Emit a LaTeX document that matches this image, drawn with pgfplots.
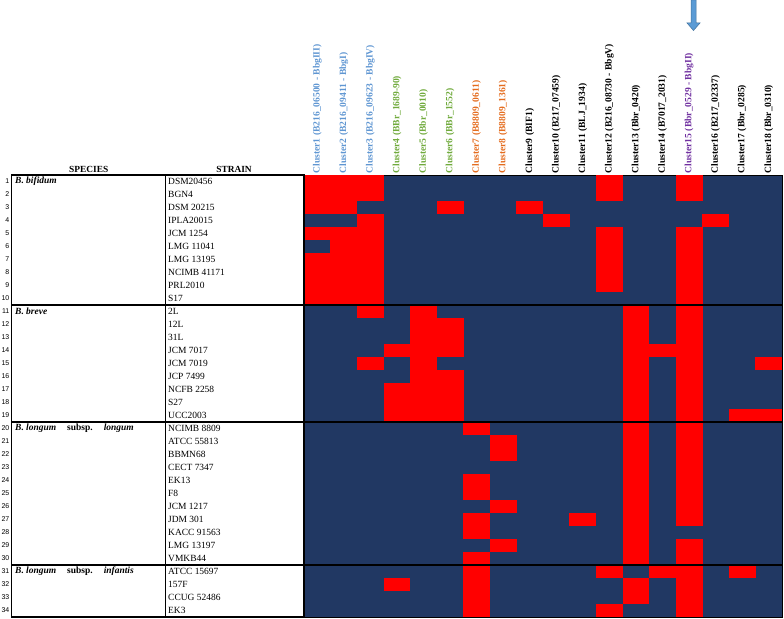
\documentclass[border=0pt]{standalone}
\usepackage{pgfplots}
\pgfplotsset{compat=1.18}
\usepackage{pgfplotstable}
\usepackage{fontspec}
\setmainfont{Liberation Serif}
\newfontfamily\numfont{Liberation Sans}
\definecolor{navy}{RGB}{33,56,99}
\definecolor{cblue}{RGB}{95,150,210}
\definecolor{cgreen}{RGB}{112,170,60}
\definecolor{corange}{RGB}{228,108,30}
\definecolor{cpurple}{RGB}{112,48,160}
\definecolor{arrowblue}{RGB}{91,155,213}
\definecolor{arrowedge}{RGB}{65,113,156}
\pgfdeclareplotmark{cell}{\pgfpathrectangle{\pgfpoint{-13.45bp}{-6.65bp}}{\pgfpoint{26.9bp}{13.3bp}}\pgfusepathqfill}

% red (present) cells: column = cluster, row = strain
\pgfplotstableread{
col row
1 1
2 1
3 1
12 1
15 1
1 2
2 2
3 2
12 2
15 2
1 3
2 3
6 3
9 3
3 4
10 4
16 4
1 5
2 5
3 5
12 5
15 5
2 6
3 6
12 6
15 6
1 7
2 7
3 7
12 7
15 7
1 8
2 8
3 8
12 8
15 8
1 9
2 9
3 9
12 9
15 9
1 10
2 10
3 10
15 10
3 11
5 11
13 11
15 11
5 12
6 12
13 12
15 12
5 13
6 13
13 13
15 13
4 14
5 14
6 14
13 14
14 14
15 14
3 15
5 15
13 15
15 15
18 15
5 16
6 16
13 16
15 16
4 17
5 17
6 17
13 17
15 17
4 18
5 18
6 18
13 18
15 18
4 19
5 19
6 19
13 19
15 19
17 19
18 19
7 20
13 20
15 20
8 21
13 21
15 21
8 22
13 22
15 22
13 23
15 23
7 24
13 24
15 24
7 25
13 25
15 25
8 26
13 26
15 26
7 27
11 27
13 27
15 27
7 28
13 28
8 29
13 29
15 29
7 30
13 30
15 30
7 31
12 31
14 31
15 31
17 31
4 32
7 32
13 32
15 32
7 33
13 33
15 33
7 34
12 34
15 34
}\redcells

\begin{document}
\begin{tikzpicture}[x=1bp,y=1bp]
\path[use as bounding box] (0,0) rectangle (784,-619);
\begin{axis}[
  at={(304bp,-175bp)}, anchor=north west,
  scale only axis, width=478bp, height=442bp,
  xmin=0.5, xmax=18.5, ymin=0.5, ymax=34.5, y dir=reverse,
  axis background/.style={fill=navy},
  axis line style={draw=black, line width=0.8bp},
  clip=false,
  major tick length=0pt,
  xtick={1,...,18}, xticklabel pos=upper,
  xticklabels={
    \textcolor{cblue}{Cluster1 (B216\_06500 - BbgIII)},
    \textcolor{cblue}{Cluster2 (B216\_09411 - BbgI)},
    \textcolor{cblue}{Cluster3 (B216\_09623 - BbgIV)},
    \textcolor{cgreen}{Cluster4 (BBr\_1689-90)},
    \textcolor{cgreen}{Cluster5 (Bbr\_0010)},
    \textcolor{cgreen}{Cluster6 (BBr\_1552)},
    \textcolor{corange}{Cluster7 (B8809\_0611)},
    \textcolor{corange}{Cluster8 (B8809\_1361)},
    Cluster9 (BIF1),
    Cluster10 (B217\_07459),
    Cluster11 (BLJ\_1934),
    Cluster12 (B216\_08730 - BbgV),
    Cluster13 (Bbr\_0420),
    Cluster14 (B7017\_2031),
    \textcolor{cpurple}{Cluster15 (Bbr\_0529 - BbgII)},
    Cluster16 (B217\_02337),
    Cluster17 (Bbr\_0285),
    Cluster18 (Bbr\_0310)},
  xticklabel style={rotate=90, anchor=west, inner sep=1.5bp,
    font=\fontsize{9.6}{10}\selectfont\bfseries},
  ytick={1,...,34},
  yticklabels={DSM20456,BGN4,DSM 20215,IPLA20015,JCM 1254,LMG 11041,LMG 13195,NCIMB 41171,PRL2010,S17,
    2L,12L,31L,JCM 7017,JCM 7019,JCP 7499,NCFB 2258,S27,UCC2003,
    NCIMB 8809,ATCC 55813,BBMN68,CECT 7347,EK13,F8,JCM 1217,JDM 301,KACC 91563,LMG 13197,VMKB44,
    ATCC 15697,157F,CCUG 52486,EK3},
  yticklabel style={anchor=west, inner sep=0pt, xshift=-136bp,
    font=\fontsize{9.5}{10}\selectfont},
]
\addplot[only marks, mark=cell, color=red] table[x=col, y=row] {\redcells};
\end{axis}
% table frame
\draw[line width=1.3bp] (11.7,-175) rectangle (304,-617);
\draw[line width=1.3bp] (165.7,-175) -- (165.7,-617);
\foreach \yy in {305,422,565} \draw[line width=1.3bp] (11.7,-\yy) -- (782,-\yy);
% row numbers
\foreach \r in {1,...,34}
  \node[anchor=east, inner sep=0pt, font=\numfont\fontsize{7}{8}\selectfont] at (9.5,{-175-13*(\r-0.5)}) {\r};
% headers
\node[font=\bfseries\fontsize{9.4}{10}\selectfont] at (88.7,-169.5) {SPECIES};
\node[font=\bfseries\fontsize{9.4}{10}\selectfont] at (234,-169.5) {STRAIN};
% species names
\begin{scope}[every node/.style={anchor=west, inner sep=0pt, font=\bfseries\fontsize{9.5}{10}\selectfont}]
\node at (15,-181.5) {\itshape B. bifidum};
\node at (15,-311.5) {\itshape B. breve};
\node at (15,-428.5) {\textit{B. longum}\hspace{11bp}subsp.\hspace{11bp}\textit{longum}};
\node at (15,-571.5) {\textit{B. longum}\hspace{11bp}subsp.\hspace{11bp}\textit{infantis}};
\end{scope}
% arrow
\filldraw[fill=arrowblue, draw=arrowedge, line width=0.5bp]
  (691,0) -- (696,0) -- (696,-23) -- (700,-23) -- (693.5,-30.5) -- (687,-23) -- (691,-23) -- cycle;
\end{tikzpicture}
\end{document}
